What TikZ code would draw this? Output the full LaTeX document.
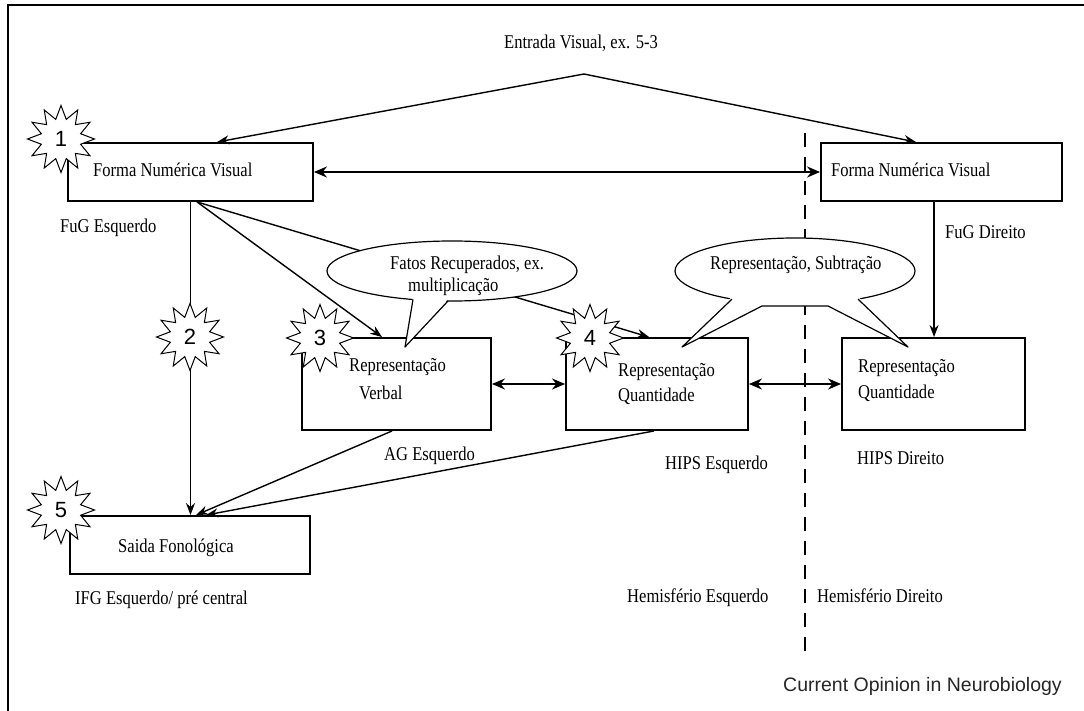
\documentclass[tikz,border=0pt]{standalone}
\usepackage{fontspec}
\setmainfont{Liberation Serif}
\newfontfamily\numfont{Liberation Sans}
\usetikzlibrary{shapes.geometric,arrows.meta}
\newcommand\cond[1]{\scalebox{0.85}[1]{#1}}
\begin{document}
\begin{tikzpicture}[x=1pt,y=-1pt,
  txt/.style={font=\fontsize{19.5}{22}\selectfont, inner sep=0pt, anchor=west},
  box/.style={draw, line width=1.9pt, inner sep=0pt},
  burst/.style={star, star points=12, star point ratio=1.65, minimum size=67pt, draw, fill=white, line width=1pt, inner sep=0pt, font=\numfont\fontsize{22}{24}\selectfont},
  arr/.style={-{Stealth[length=12pt,width=9pt]}, line width=1.4pt},
  darr/.style={{Stealth[length=13pt,width=11pt]}-{Stealth[length=13pt,width=11pt]}, line width=2pt},
  bubble/.style={ellipse, draw, fill=white, line width=1.2pt, inner sep=0pt},
  divider/.style={line width=2pt, dash pattern=on 14pt off 10pt},
]
\useasboundingbox (0,0) rectangle (1084,711);
% frame
\draw[line width=2pt] (1084,5) -- (8,5) -- (8,711);
% hemisphere divider
\coordinate (dtop) at (805,133);
\coordinate (dbot) at (805,655);
\draw[divider] (dtop) -- (dbot);

% boxes
\node[box, minimum width=245pt, minimum height=58pt] (fnvL) at (190.5,172) {};
\node[box, minimum width=241pt, minimum height=58pt] (fnvR) at (941.5,172) {};
\node[box, minimum width=189pt, minimum height=92pt] (verb) at (396.5,384) {};
\node[box, minimum width=182pt, minimum height=92pt] (quL) at (657,384) {};
\node[box, minimum width=183pt, minimum height=92pt] (quR) at (933.5,384) {};
\node[box, minimum width=240pt, minimum height=58pt] (saida) at (190,545) {};

% visual input
\coordinate (apex) at (584,74);
\draw[arr] (apex) -- ([xshift=150pt]fnvL.north west);
\draw[arr] (apex) -- ([xshift=96pt]fnvR.north west);

% connectors
\draw[arr] (fnvL.south) -- (saida.north -| fnvL.south);
\draw[arr] ([xshift=6.5pt]fnvL.south) -- ([xshift=81pt]verb.north west);
\draw[arr] ([xshift=6.5pt]fnvL.south) -- ([xshift=84pt]quL.north west);
\draw[arr] ([xshift=114pt]fnvR.south west) -- ([xshift=93pt]quR.north west);
\draw[darr] (fnvL.east) -- (fnvR.west);
\draw[darr] (verb.east) -- (quL.west);
\draw[darr] (quL.east) -- (quR.west);
\draw[arr] ([xshift=91pt]verb.south west) -- ([xshift=127pt]saida.north west);
\draw[arr] ([xshift=89pt]quL.south west) -- ([xshift=137pt]saida.north west);

% speech bubbles
\node[bubble, minimum width=250pt, minimum height=60pt] (b1) at (452,271) {};
\fill[white] (413,297) -- (405,347) -- (448,299) -- cycle;
\draw[line width=1.2pt, line join=round] (413,299.5) -- (405,347) -- (448,301);

\node[bubble, minimum width=240pt, minimum height=66pt] (b2) at (795,271) {};
\fill[white] (732,296.5) -- (682,347) -- (762,306) -- (828,306) -- (908,347) -- (858,296.5) -- cycle;
\draw[line width=1.2pt, line join=round] (732,299.1) -- (682,347) -- (762,306) -- (828,306) -- (908,347) -- (858,299.1);

% bursts
\node[burst] (s1) at (61,139) {1};
\node[burst] (s2) at (190,337) {2};
\node[burst] (s3) at (320,338) {3};
\node[burst] (s4) at (590,338) {4};
\node[burst] (s5) at (61,510) {5};

% texts
\node[txt] (tin) at (504,43) {\cond{Entrada Visual, ex. 5-3}};
\node[txt] (tfl) at (93,170) {\cond{Forma Numérica Visual}};
\node[txt] (tfr) at (831,170) {\cond{Forma Numérica Visual}};
\node[txt] (tfuge) at (60,228) {\cond{FuG Esquerdo}};
\node[txt] (tfugd) at (945,232) {\cond{FuG Direito}};
\node[txt] (tb1a) at (390,265) {\cond{Fatos Recuperados, ex.}};
\node[txt] (tb1b) at (408,287) {\cond{multiplicação}};
\node[txt] (tb2) at (710,265) {\cond{Representação, Subtração}};
\node[txt] (tv1) at (349,367) {\cond{Representação}};
\node[txt] (tv2) at (359,393) {\cond{Verbal}};
\node[txt] (tql1) at (618,372) {\cond{Representação}};
\node[txt] (tql2) at (618,396) {\cond{Quantidade}};
\node[txt] (tqr1) at (858,368) {\cond{Representação}};
\node[txt] (tqr2) at (858,393) {\cond{Quantidade}};
\node[txt] (tag) at (384,456) {\cond{AG Esquerdo}};
\node[txt] (thl) at (665,465) {\cond{HIPS Esquerdo}};
\node[txt] (thr) at (857,458) {\cond{HIPS Direito}};
\node[txt] (tsf) at (118,548) {\cond{Saida Fonológica}};
\node[txt] (tifg) at (75,600) {\cond{IFG Esquerdo/ pré central}};
\node[txt] (the) at (627,598) {\cond{Hemisfério Esquerdo}};
\node[txt] (thd) at (817,596) {\cond{Hemisfério Direito}};
\node[txt, font=\numfont\fontsize{19.5}{22}\selectfont, text=black!85] (tco) at (783,686) {Current Opinion in Neurobiology};
\end{tikzpicture}
\end{document}
